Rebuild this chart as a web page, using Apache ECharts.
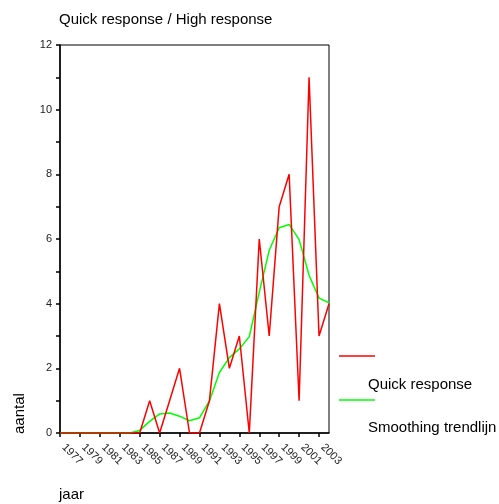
<!DOCTYPE html>
<html>
<head>
<meta charset="utf-8">
<script src="https://cdn.jsdelivr.net/npm/echarts@6/dist/echarts.min.js"></script>
<style>
  html, body { margin: 0; padding: 0; background: #fff; }
  #chart { width: 499px; height: 504px; }
</style>
</head>
<body>
<div id="chart"></div>
<script>
// Years on the horizontal axis (labels every second year)
const years = [1977, 1978, 1979, 1980, 1981, 1982, 1983, 1984, 1985, 1986,
  1987, 1988, 1989, 1990, 1991, 1992, 1993, 1994, 1995, 1996,
  1997, 1998, 1999, 2000, 2001, 2002, 2003, 2004];

// Yearly counts
const quickResponse = [0, 0, 0, 0, 0, 0, 0, 0, 0, 1,
  0, 1, 2, 0, 0, 1, 4, 2, 3, 0,
  6, 3, 7, 8, 1, 11, 3, 4];

// Smoothed trend line
const smoothing = [0, 0, 0, 0, 0, 0, 0, 0, 0.08, 0.36,
  0.59, 0.62, 0.52, 0.38, 0.47, 0.99, 1.87, 2.33, 2.6, 2.98,
  4.35, 5.65, 6.35, 6.45, 5.98, 4.88, 4.17, 4.03];

const yTicks = [0, 2, 4, 6, 8, 10, 12];

const FONT = 'Liberation Sans, Arial, Helvetica, sans-serif';
const chart = echarts.init(document.getElementById('chart'), null, { renderer: 'canvas' });

chart.setOption({
  animation: false,
  backgroundColor: '#fff',
  title: {
    text: 'Quick response / High response',
    left: 54,
    top: 7,
    textStyle: { fontFamily: FONT, fontSize: 15, fontWeight: 'normal', color: '#000' }
  },
  grid: {
    left: 60, right: 170, top: 45, bottom: 71,
    show: true, borderColor: '#000', borderWidth: 1, backgroundColor: 'transparent'
  },
  xAxis: {
    type: 'category',
    data: years,
    boundaryGap: false,
    axisLine: { lineStyle: { color: '#000', width: 1.5 } },
    axisTick: { interval: 1, length: 4, lineStyle: { color: '#000', width: 1.5 } },
    axisLabel: {
      interval: 1, rotate: -45, margin: 9, padding: [0, 0, 0, 5],
      fontFamily: FONT, fontSize: 11, color: '#222'
    },
    splitLine: { show: false }
  },
  yAxis: {
    type: 'value',
    min: 0, max: 12, interval: 1,
    axisLine: { show: true, lineStyle: { color: '#000', width: 1.5 } },
    axisTick: { show: true, length: 4, lineStyle: { color: '#000', width: 1.5 } },
    axisLabel: {
      margin: 8, fontFamily: FONT, fontSize: 11, color: '#222',
      formatter: v => (yTicks.includes(v) ? String(v) : '')
    },
    splitLine: { show: false }
  },
  series: [
    {
      name: 'Quick response',
      type: 'line',
      data: quickResponse,
      symbol: 'none',
      lineStyle: { color: '#ff0000', width: 1.5 },
      z: 3
    },
    {
      name: 'Smoothing trendlijn',
      type: 'line',
      data: smoothing,
      symbol: 'none',
      lineStyle: { color: '#00ff00', width: 1.5 },
      z: 2
    }
  ],
  graphic: [
    { type: 'line', shape: { x1: 339, y1: 356, x2: 375, y2: 356 },
      style: { stroke: '#ff0000', lineWidth: 1.5 } },
    { type: 'text', left: 368, top: 377,
      style: { text: 'Quick response', font: '15px ' + FONT, fill: '#000' } },
    { type: 'line', shape: { x1: 339, y1: 400, x2: 375, y2: 400 },
      style: { stroke: '#00ff00', lineWidth: 1.5 } },
    { type: 'text', left: 368, top: 420,
      style: { text: 'Smoothing trendlijn', font: '15px ' + FONT, fill: '#000' } },
    { type: 'text', x: 20, y: 434, rotation: Math.PI / 2,
      style: { text: 'aantal', font: '15px ' + FONT, fill: '#000', textAlign: 'left', textVerticalAlign: 'middle' } },
    { type: 'text', left: 59, top: 487,
      style: { text: 'jaar', font: '15px ' + FONT, fill: '#000' } }
  ]
});
</script>
</body>
</html>
